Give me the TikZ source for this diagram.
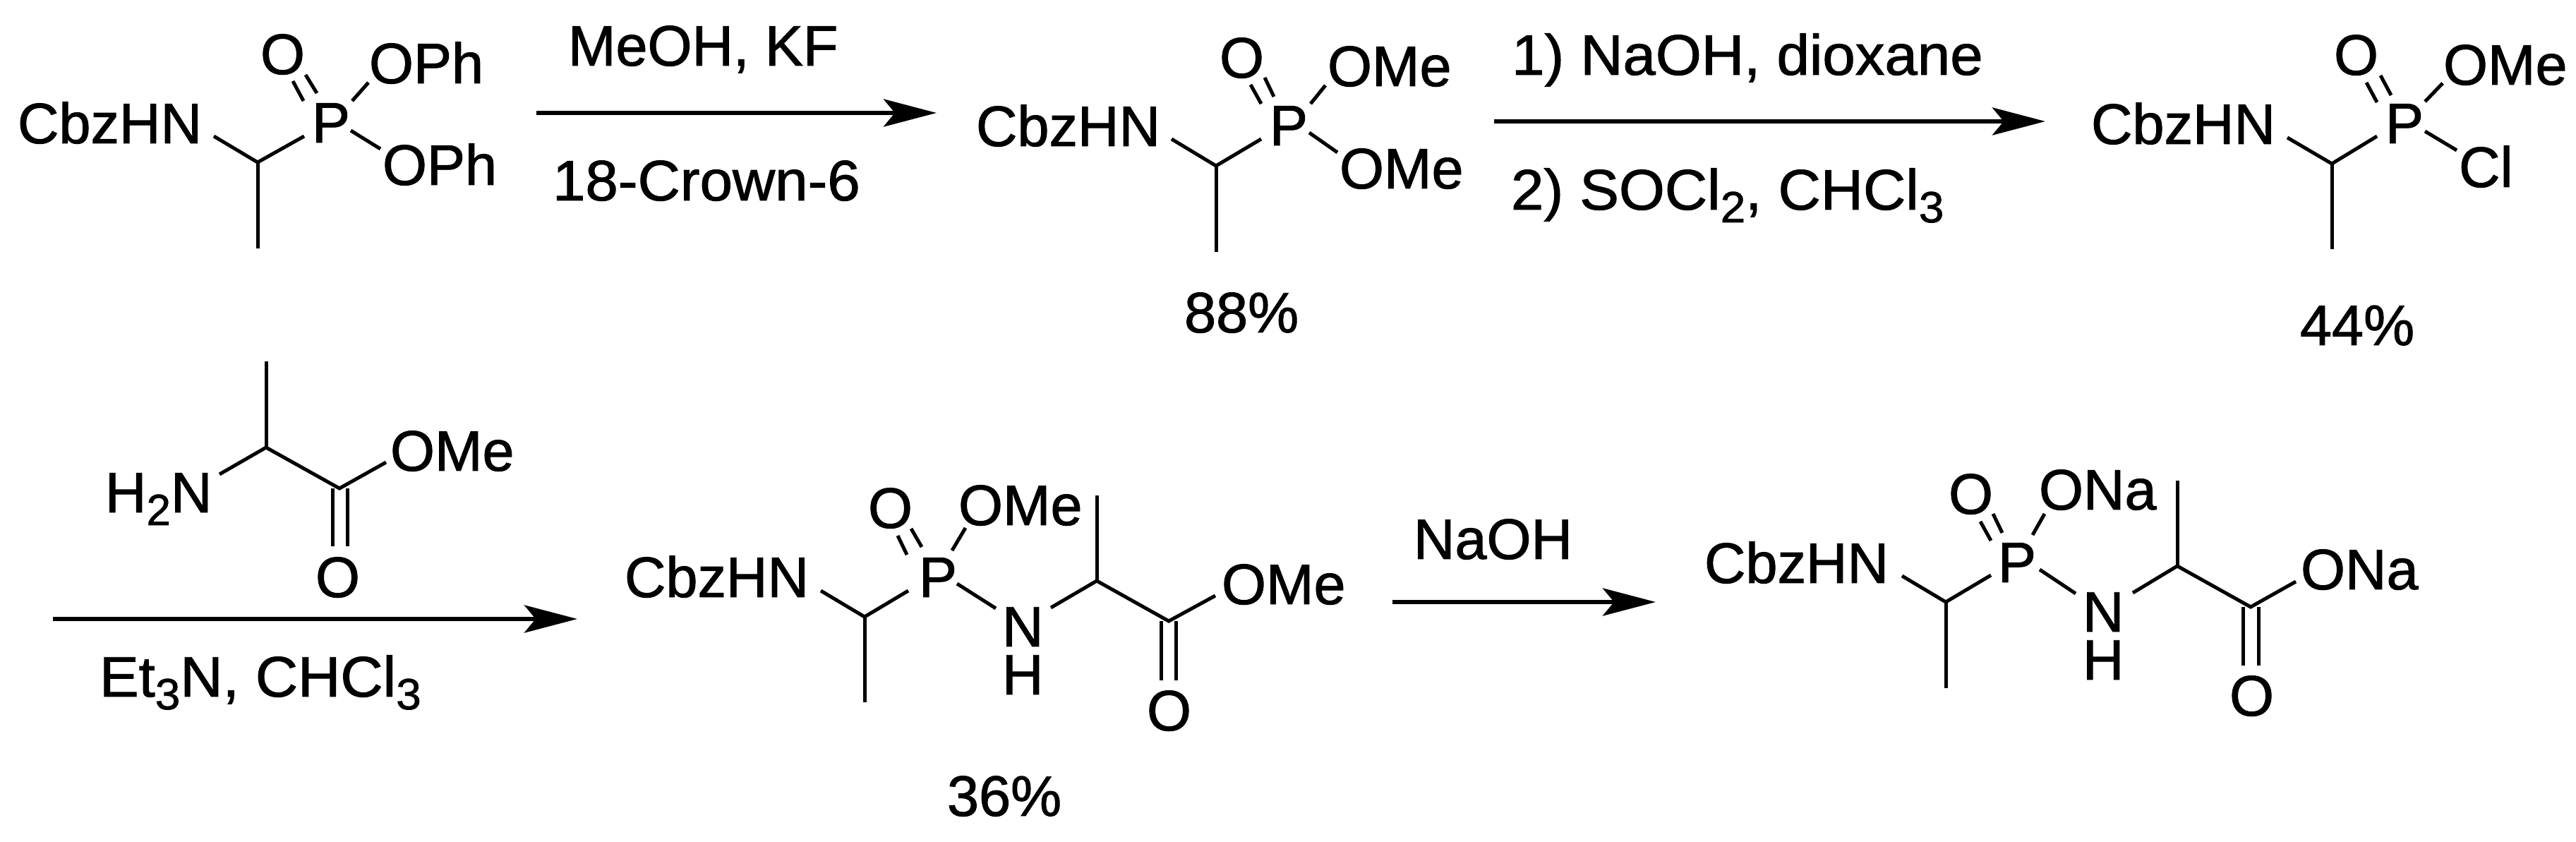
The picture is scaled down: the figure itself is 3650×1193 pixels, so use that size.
\documentclass[tikz,border=0pt]{standalone}
\usepackage{fontspec}
\setmainfont{Liberation Sans}
\newfontfamily\chemfont[FakeBold=1.2]{Liberation Sans}
\usetikzlibrary{arrows.meta}
\newcommand\lowr[1]{\raisebox{-3.6pt}{\fontsize{12.4}{12.4}\selectfont #1}}
\newcommand\wider[1]{\scalebox{1.03}[1]{#1}}
\tikzset{
  lab/.style={anchor=base west,inner sep=0pt,outer sep=0pt,font=\fontsize{16.2}{16.2}\chemfont\selectfont},
  bond/.style={line width=1pt,line cap=butt,line join=miter,black},
  rxn/.style={line width=1.3pt,black,-{Stealth[length=15pt,width=7.8pt,inset=3.2pt]}}
}
\begin{document}
\begin{tikzpicture}[x=0.2pt,y=-0.2pt]
\useasboundingbox (0,0) rectangle (3650,1193);
\fill[white] (0,0) rectangle (3650,1193);
% ---------- molecule A
\node[lab] (cbzA) at (25,203) {CbzHN};
\node[lab] (pA) at (442,202) {P};
\node[lab] (oA) at (369,105) {O};
\node[lab] (ophA) at (523,118) {OPh};
\node[lab] (ophB) at (542,262) {OPh};
\coordinate (caA) at (365,230);
\coordinate (naA) at (303,193);
\coordinate (paA) at (431,193);
\coordinate (meA) at (365,352);
\coordinate (d1A) at (415,115);
\coordinate (d2A) at (430,143);
\coordinate (d3A) at (433,106);
\coordinate (d4A) at (449,132);
\coordinate (o1A) at (522,117);
\coordinate (o2A) at (499,143);
\coordinate (o3A) at (497,185);
\coordinate (o4A) at (539,211);
\draw[bond] (naA) -- (caA) -- (paA);
\draw[bond] (caA) -- (meA);
\draw[bond] (d1A) -- (d2A);
\draw[bond] (d3A) -- (d4A);
\draw[bond] (o1A) -- (o2A);
\draw[bond] (o3A) -- (o4A);
% arrow 1
\node[lab] (r1a) at (805,93) {MeOH, KF};
\node[lab] (r1b) at (783,284) {\wider{18-Crown-6}};
\coordinate (a1s) at (760,160);
\coordinate (a1e) at (1327,160);
\draw[rxn] (a1s) -- (a1e);
% ---------- molecule B
\node[lab] (cbzB) at (1383,207) {CbzHN};
\node[lab] (pB) at (1799,206) {P};
\node[lab] (oB) at (1728,110) {O};
\node[lab] (omeB) at (1881,122) {OMe};
\node[lab] (omeC) at (1898,267) {OMe};
\node[lab] (yB) at (1678,471) {88\%};
\coordinate (caB) at (1723,235);
\coordinate (naB) at (1660,197);
\coordinate (paB) at (1787,197);
\coordinate (meB) at (1723,357);
\coordinate (d1B) at (1772,120);
\coordinate (d2B) at (1787,147);
\coordinate (d3B) at (1792,110);
\coordinate (d4B) at (1805,137);
\coordinate (o1B) at (1878,121);
\coordinate (o2B) at (1857,147);
\coordinate (o3B) at (1855,188);
\coordinate (o4B) at (1895,216);
\draw[bond] (naB) -- (caB) -- (paB);
\draw[bond] (caB) -- (meB);
\draw[bond] (d1B) -- (d2B);
\draw[bond] (d3B) -- (d4B);
\draw[bond] (o1B) -- (o2B);
\draw[bond] (o3B) -- (o4B);
% arrow 2
\node[lab] (r2a) at (2142,106) {\wider{1) NaOH, dioxane}};
\node[lab] (r2b) at (2141,297) {\wider{2) SOCl\lowr{2}, CHCl\lowr{3}}};
\coordinate (a2s) at (2117,172);
\coordinate (a2e) at (2898,172);
\draw[rxn] (a2s) -- (a2e);
% ---------- molecule C
\node[lab] (cbzC) at (2963,204) {CbzHN};
\node[lab] (pC) at (3380,203) {P};
\node[lab] (oC) at (3307,106) {O};
\node[lab] (omeD) at (3462,120) {OMe};
\node[lab] (clC) at (3484,265) {Cl};
\node[lab] (yC) at (3259,489) {44\%};
\coordinate (caC) at (3304,232);
\coordinate (naC) at (3241,195);
\coordinate (paC) at (3368,193);
\coordinate (meC) at (3304,353);
\coordinate (d1C) at (3353,117);
\coordinate (d2C) at (3368,145);
\coordinate (d3C) at (3373,107);
\coordinate (d4C) at (3388,135);
\coordinate (o1C) at (3461,118);
\coordinate (o2C) at (3436,144);
\coordinate (o3C) at (3436,186);
\coordinate (o4C) at (3481,213);
\draw[bond] (naC) -- (caC) -- (paC);
\draw[bond] (caC) -- (meC);
\draw[bond] (d1C) -- (d2C);
\draw[bond] (d3C) -- (d4C);
\draw[bond] (o1C) -- (o2C);
\draw[bond] (o3C) -- (o4C);
% ---------- alanine ester over arrow 3
\node[lab] (h2n) at (149,726) {H\lowr{2}N};
\node[lab] (omeE) at (553,667) {OMe};
\node[lab] (oE) at (447,846) {O};
\coordinate (caE) at (377,634);
\coordinate (topE) at (377,512);
\coordinate (nE) at (311,672);
\coordinate (ccE) at (481,692);
\coordinate (oeE) at (547,655);
\coordinate (d1E) at (471,692);
\coordinate (d2E) at (471,774);
\coordinate (d3E) at (492,692);
\coordinate (d4E) at (492,774);
\draw[bond] (nE) -- (caE) -- (ccE) -- (oeE);
\draw[bond] (caE) -- (topE);
\draw[bond] (d1E) -- (d2E);
\draw[bond] (d3E) -- (d4E);
% arrow 3
\node[lab] (r3) at (141,987) {\wider{Et\lowr{3}N, CHCl\lowr{3}}};
\coordinate (a3s) at (75,877);
\coordinate (a3e) at (818,877);
\draw[rxn] (a3s) -- (a3e);
% ---------- molecule D
\node[lab] (cbzD) at (885,846) {CbzHN};
\node[lab] (pD) at (1302,846) {P};
\node[lab] (oD) at (1230,748) {O};
\node[lab] (omeF) at (1358,744) {OMe};
\node[lab] (nD) at (1420,916) {N};
\node[lab] (hD) at (1420,984) {H};
\node[lab] (omeG) at (1731,856) {OMe};
\node[lab] (oF) at (1625,1035) {O};
\node[lab] (yD) at (1342,1156) {36\%};
\coordinate (caD) at (1225,874);
\coordinate (naD) at (1163,837);
\coordinate (paD) at (1287,837);
\coordinate (meD) at (1225,995);
\coordinate (d1D) at (1272,759);
\coordinate (d2D) at (1285,786);
\coordinate (d3D) at (1291,749);
\coordinate (d4D) at (1306,775);
\coordinate (o1D) at (1368,748);
\coordinate (o2D) at (1349,780);
\coordinate (pnD) at (1356,827);
\coordinate (npD) at (1411,862);
\coordinate (ncD) at (1489,861);
\coordinate (cbD) at (1554,823);
\coordinate (tpD) at (1554,702);
\coordinate (ccD) at (1656,880);
\coordinate (oeD) at (1722,844);
\coordinate (d5D) at (1645,880);
\coordinate (d6D) at (1645,964);
\coordinate (d7D) at (1666,880);
\coordinate (d8D) at (1666,964);
\draw[bond] (naD) -- (caD) -- (paD);
\draw[bond] (caD) -- (meD);
\draw[bond] (d1D) -- (d2D);
\draw[bond] (d3D) -- (d4D);
\draw[bond] (o1D) -- (o2D);
\draw[bond] (pnD) -- (npD);
\draw[bond] (ncD) -- (cbD) -- (ccD) -- (oeD);
\draw[bond] (cbD) -- (tpD);
\draw[bond] (d5D) -- (d6D);
\draw[bond] (d7D) -- (d8D);
% arrow 4
\node[lab] (r4) at (2003,792) {NaOH};
\coordinate (a4s) at (1973,853);
\coordinate (a4e) at (2346,853);
\draw[rxn] (a4s) -- (a4e);
% ---------- molecule F
\node[lab] (cbzF) at (2415,826) {CbzHN};
\node[lab] (pF) at (2831,825) {P};
\node[lab] (oG) at (2761,728) {O};
\node[lab] (onaA) at (2889,722) {ONa};
\node[lab] (nF) at (2951,895) {N};
\node[lab] (hF) at (2951,963) {H};
\node[lab] (onaB) at (3260,835) {ONa};
\node[lab] (oH) at (3159,1014) {O};
\coordinate (caF) at (2757,853);
\coordinate (naF) at (2695,816);
\coordinate (paF) at (2821,815);
\coordinate (meF) at (2757,975);
\coordinate (d1F) at (2806,739);
\coordinate (d2F) at (2821,766);
\coordinate (d3F) at (2824,728);
\coordinate (d4F) at (2837,755);
\coordinate (o1F) at (2897,728);
\coordinate (o2F) at (2880,758);
\coordinate (pnF) at (2890,807);
\coordinate (npF) at (2941,841);
\coordinate (ncF) at (3022,840);
\coordinate (cbF) at (3085,802);
\coordinate (tpF) at (3085,681);
\coordinate (ccF) at (3189,860);
\coordinate (oeF) at (3253,824);
\coordinate (d5F) at (3178,860);
\coordinate (d6F) at (3178,943);
\coordinate (d7F) at (3200,860);
\coordinate (d8F) at (3200,943);
\draw[bond] (naF) -- (caF) -- (paF);
\draw[bond] (caF) -- (meF);
\draw[bond] (d1F) -- (d2F);
\draw[bond] (d3F) -- (d4F);
\draw[bond] (o1F) -- (o2F);
\draw[bond] (pnF) -- (npF);
\draw[bond] (ncF) -- (cbF) -- (ccF) -- (oeF);
\draw[bond] (cbF) -- (tpF);
\draw[bond] (d5F) -- (d6F);
\draw[bond] (d7F) -- (d8F);
\end{tikzpicture}
\end{document}
